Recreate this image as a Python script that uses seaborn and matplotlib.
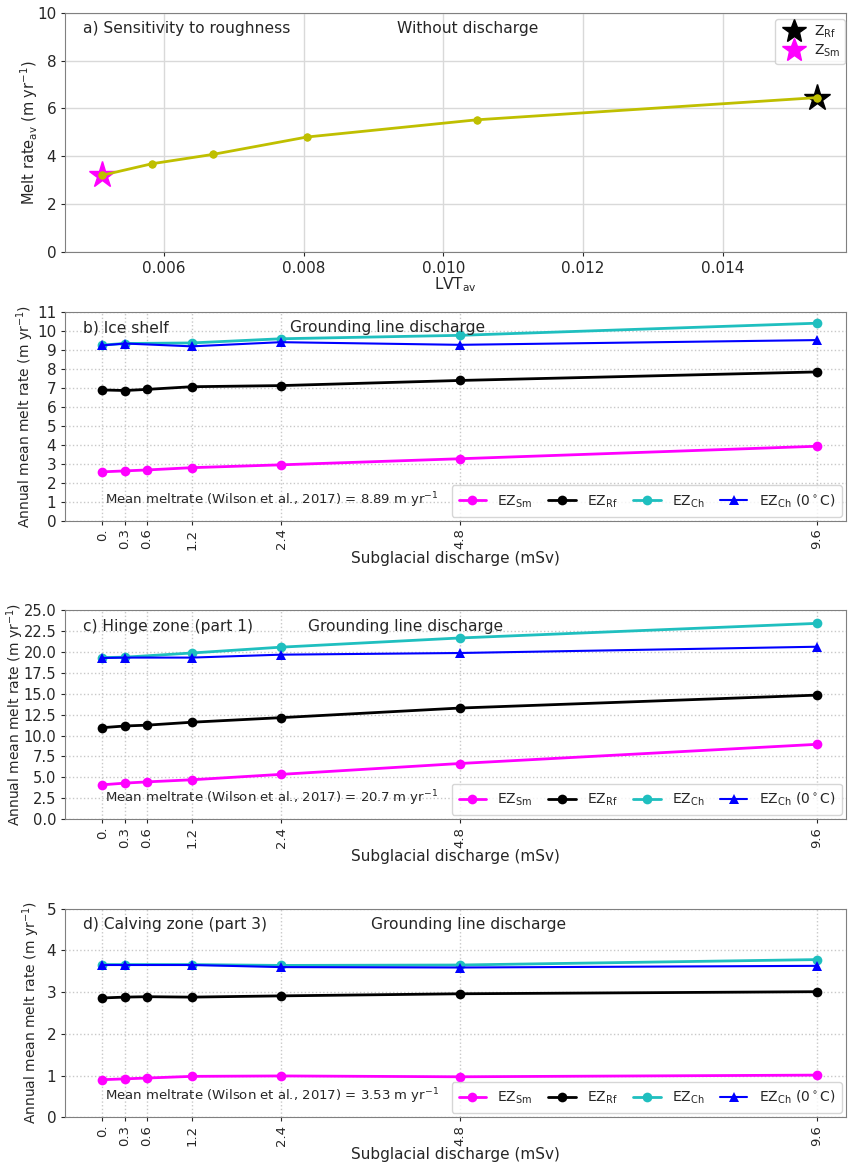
import numpy as np
import pandas as pd
import seaborn as sns
import matplotlib
matplotlib.use("Agg")
import matplotlib.pyplot as plt
from matplotlib.lines import Line2D

# ---- data ----
# panel a: sensitivity to roughness
lvt_av = [0.00512, 0.00583, 0.00670, 0.00805, 0.01048, 0.01535]
melt_av = [3.20, 3.68, 4.07, 4.80, 5.52, 6.45]

# panels b-d: subglacial discharge (mSv)
discharge = [0.0, 0.3, 0.6, 1.2, 2.4, 4.8, 9.6]
discharge_ch = [0.0, 0.3, 1.2, 2.4, 4.8, 9.6]
tick_labels = ["0.", "0.3", "0.6", "1.2", "2.4", "4.8", "9.6"]

ice_sm = [2.58, 2.63, 2.68, 2.80, 2.95, 3.27, 3.93]
ice_rf = [6.90, 6.87, 6.93, 7.07, 7.13, 7.40, 7.85]
ice_ch = [9.27, 9.35, 9.38, 9.60, 9.78, 10.42]
ice_ch0 = [9.25, 9.35, 9.20, 9.42, 9.28, 9.53]

hinge_sm = [4.10, 4.30, 4.45, 4.70, 5.35, 6.65, 8.95]
hinge_rf = [10.95, 11.15, 11.25, 11.60, 12.15, 13.30, 14.85]
hinge_ch = [19.35, 19.40, 19.90, 20.60, 21.70, 23.45]
hinge_ch0 = [19.30, 19.35, 19.35, 19.70, 19.90, 20.65]

calv_sm = [0.90, 0.92, 0.94, 0.98, 0.99, 0.97, 1.01]
calv_rf = [2.86, 2.88, 2.89, 2.88, 2.91, 2.96, 3.01]
calv_ch = [3.66, 3.66, 3.66, 3.64, 3.65, 3.78]
calv_ch0 = [3.65, 3.65, 3.65, 3.60, 3.59, 3.63]

sns.set_style("white")
plt.rcParams['font.family'] = ['DejaVu Sans']

fig = plt.figure(figsize=(8.48, 11.65), dpi=100)

# axes positions (fig fractions)
L, W = 0.077, 0.921
ax_a = fig.add_axes([L, 0.784, W, 0.205])
ax_b = fig.add_axes([L, 0.553, W, 0.179])
ax_c = fig.add_axes([L, 0.297, W, 0.179])
ax_d = fig.add_axes([L, 0.041, W, 0.179])

# ---- panel a ----
df_a = pd.DataFrame({'lvt': lvt_av, 'melt': melt_av})
sns.lineplot(data=df_a, x='lvt', y='melt', color='#bfbf00', marker='o',
             markersize=6, markeredgewidth=0, linewidth=2, ax=ax_a, zorder=3)
ax_a.plot(lvt_av[-1], melt_av[-1], marker='*', color='black', markersize=20,
          linestyle='none', zorder=2)
ax_a.plot(lvt_av[0], melt_av[0], marker='*', color='#ff00ff', markersize=20,
          linestyle='none', zorder=2)
ax_a.scatter(lvt_av, melt_av, color='#bfbf00', s=30, zorder=4, linewidths=0)
ax_a.set_xlim(0.00459, 0.01577)
ax_a.set_ylim(0, 10)
ax_a.set_xticks([0.006, 0.008, 0.010, 0.012, 0.014])
ax_a.set_yticks([0, 2, 4, 6, 8, 10])
ax_a.grid(True, color='#d9d9d9', linewidth=1)
ax_a.set_axisbelow(True)
ax_a.tick_params(labelsize=11, left=True, bottom=True, length=3)
ax_a.set_xlabel("LVT$_{\\rm av}$", fontsize=11, labelpad=0)
ax_a.set_ylabel("Melt rate$_{\\rm av}$ (m yr$^{-1}$)", fontsize=10.5)
ax_a.yaxis.set_label_coords(-0.032, 0.5)
ax_a.text(0.023, 0.935, "a) Sensitivity to roughness", transform=ax_a.transAxes,
          fontsize=11.2, va='center')
ax_a.text(0.425, 0.935, "Without discharge", transform=ax_a.transAxes,
          fontsize=11.2, va='center')
star_handles = [
    Line2D([0], [0], marker='*', color='black', markersize=18, linestyle='none',
           label="Z$_{\\rm Rf}$"),
    Line2D([0], [0], marker='*', color='#ff00ff', markersize=18, linestyle='none',
           label="Z$_{\\rm Sm}$"),
]
ax_a.legend(handles=star_handles, loc='upper right', fontsize=10, frameon=True,
            handletextpad=0.4, borderpad=0.35, labelspacing=0.2,
            bbox_to_anchor=(1.0, 0.98), borderaxespad=0.1)


def discharge_panel(ax, sm, rf, ch, ch0, ylim, yticks, label, lx, note,
                    ylab_x, fmt=None, ysize=11):
    sns.lineplot(x=discharge, y=sm, color='#ff00ff', marker='o', markersize=7,
                 markeredgewidth=0, linewidth=2, ax=ax, label="EZ$_{\\rm Sm}$")
    sns.lineplot(x=discharge, y=rf, color='black', marker='o', markersize=7,
                 markeredgewidth=0, linewidth=2, ax=ax, label="EZ$_{\\rm Rf}$")
    sns.lineplot(x=discharge_ch, y=ch, color='#1fbfbf', marker='o', markersize=7,
                 markeredgewidth=0, linewidth=2, ax=ax, label="EZ$_{\\rm Ch}$")
    sns.lineplot(x=discharge_ch, y=ch0, color='#0000ff', marker='^', markersize=7,
                 markeredgewidth=0, linewidth=1.5, ax=ax,
                 label="EZ$_{\\rm Ch}$ (0$^\\circ$C)")
    ax.set_xlim(-0.5, 10.0)
    ax.set_ylim(*ylim)
    ax.set_yticks(yticks)
    if fmt:
        ax.set_yticklabels([fmt % v for v in yticks])
    ax.set_xticks(discharge)
    ax.set_xticklabels(tick_labels, rotation=90)
    ax.grid(True, color='#c8c8c8', linestyle=':', linewidth=1)
    ax.set_axisbelow(True)
    ax.tick_params(axis='y', labelsize=ysize, left=True, length=3)
    ax.tick_params(axis='x', labelsize=9.5, bottom=True, length=3, pad=2.5)
    ax.set_xlabel("Subglacial discharge (mSv)", fontsize=11, labelpad=1)
    ax.set_ylabel("Annual mean melt rate (m yr$^{-1}$)", fontsize=10)
    ax.yaxis.set_label_coords(ylab_x, 0.5)
    ax.text(0.023, 0.925, label, transform=ax.transAxes, fontsize=11.2, va='center')
    ax.text(lx, 0.925, "Grounding line discharge", transform=ax.transAxes,
            fontsize=11.2, va='center')
    ax.text(0.051, 0.10, note, transform=ax.transAxes, fontsize=9.5, va='center')
    ax.legend(loc='lower right', ncol=4, fontsize=10, frameon=True,
              handlelength=2, columnspacing=1.1, borderpad=0.5,
              borderaxespad=0.3)


discharge_panel(ax_b, ice_sm, ice_rf, ice_ch, ice_ch0, (0, 11), list(range(0, 12)),
                "b) Ice shelf", 0.288,
                "Mean meltrate (Wilson et al., 2017) = 8.89 m yr$^{-1}$", -0.038)
discharge_panel(ax_c, hinge_sm, hinge_rf, hinge_ch, hinge_ch0, (0, 25),
                list(np.arange(0, 25.1, 2.5)), "c) Hinge zone (part 1)", 0.311,
                "Mean meltrate (Wilson et al., 2017) = 20.7 m yr$^{-1}$", -0.05,
                fmt="%.1f", ysize=10.5)
discharge_panel(ax_d, calv_sm, calv_rf, calv_ch, calv_ch0, (0, 5), list(range(0, 6)),
                "d) Calving zone (part 3)", 0.392,
                "Mean meltrate (Wilson et al., 2017) = 3.53 m yr$^{-1}$", -0.030)

for ax in (ax_a, ax_b, ax_c, ax_d):
    for spine in ax.spines.values():
        spine.set_color('#808080')

fig.savefig("out.png", dpi=100)
